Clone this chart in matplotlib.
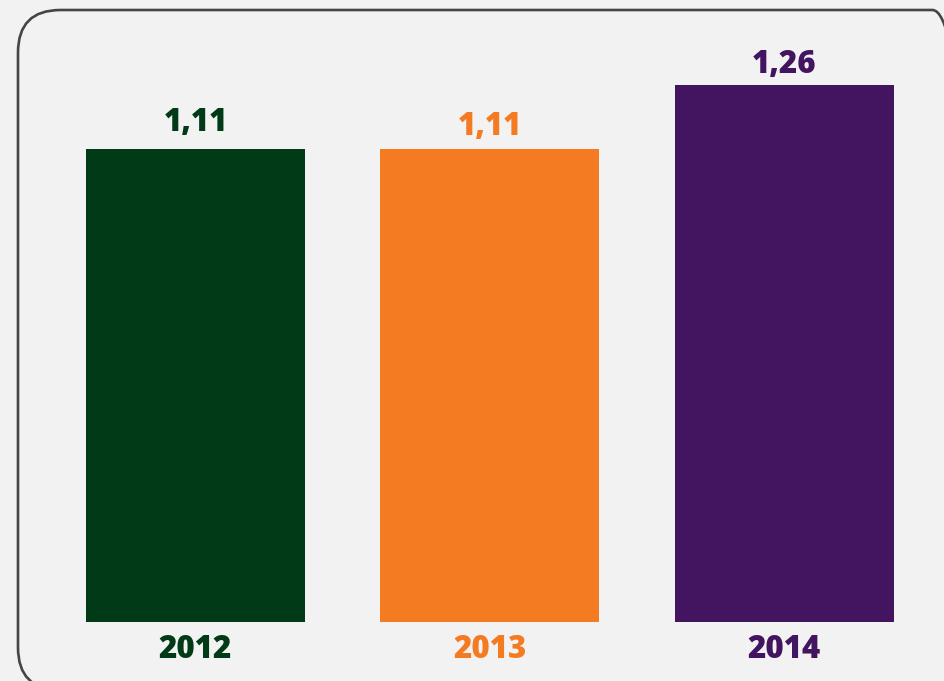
import matplotlib
matplotlib.use("Agg")
import matplotlib.pyplot as plt
from matplotlib.patches import FancyBboxPatch

years = ["2012", "2013", "2014"]
values = [1.11, 1.11, 1.26]
value_labels = ["1,11", "1,11", "1,26"]
colors = ["#013a17", "#f47b22", "#431560"]
label_offsets_px = [18, 14, 12]

W, H = 945, 681
fig = plt.figure(figsize=(W / 100, H / 100), dpi=100)
fig.patch.set_facecolor("#f2f2f2")

# rounded frame
frame = FancyBboxPatch((18 / W, (H - 690) / H), (975 - 18) / W, (690 - 10) / H,
                       boxstyle="round,pad=0,rounding_size=0.045",
                       transform=fig.transFigure, facecolor="none",
                       edgecolor="#454545", linewidth=1.9, mutation_aspect=W / H)
fig.patches.append(frame)

base_px = 622
px_per_unit = 426.2
spacing = 294.5
c0 = 195.5
ax = fig.add_axes([0, (H - base_px) / H, 1, base_px / H])
ax.set_facecolor("none")
x = list(range(len(years)))
ax.bar(x, values, width=219 / spacing, color=colors)
ax.set_xlim(-c0 / spacing, (W - c0) / spacing)
ax.set_ylim(0, base_px / px_per_unit)
ax.axis("off")

font = "Open Sans"
for i, (v, lab, col, off) in enumerate(zip(values, value_labels, colors, label_offsets_px)):
    ax.annotate(lab, (i, v), xytext=(0, off * 0.72), textcoords="offset points",
                ha="center", va="baseline", fontsize=22.5, fontweight=800,
                color=col, family=font)
    ax.annotate(years[i], (i, 0), xytext=(0, -35.5 * 0.72), textcoords="offset points",
                ha="center", va="baseline", fontsize=22.5, fontweight=800,
                color=col, family=font)

fig.savefig("out.png", dpi=100, facecolor=fig.get_facecolor())
